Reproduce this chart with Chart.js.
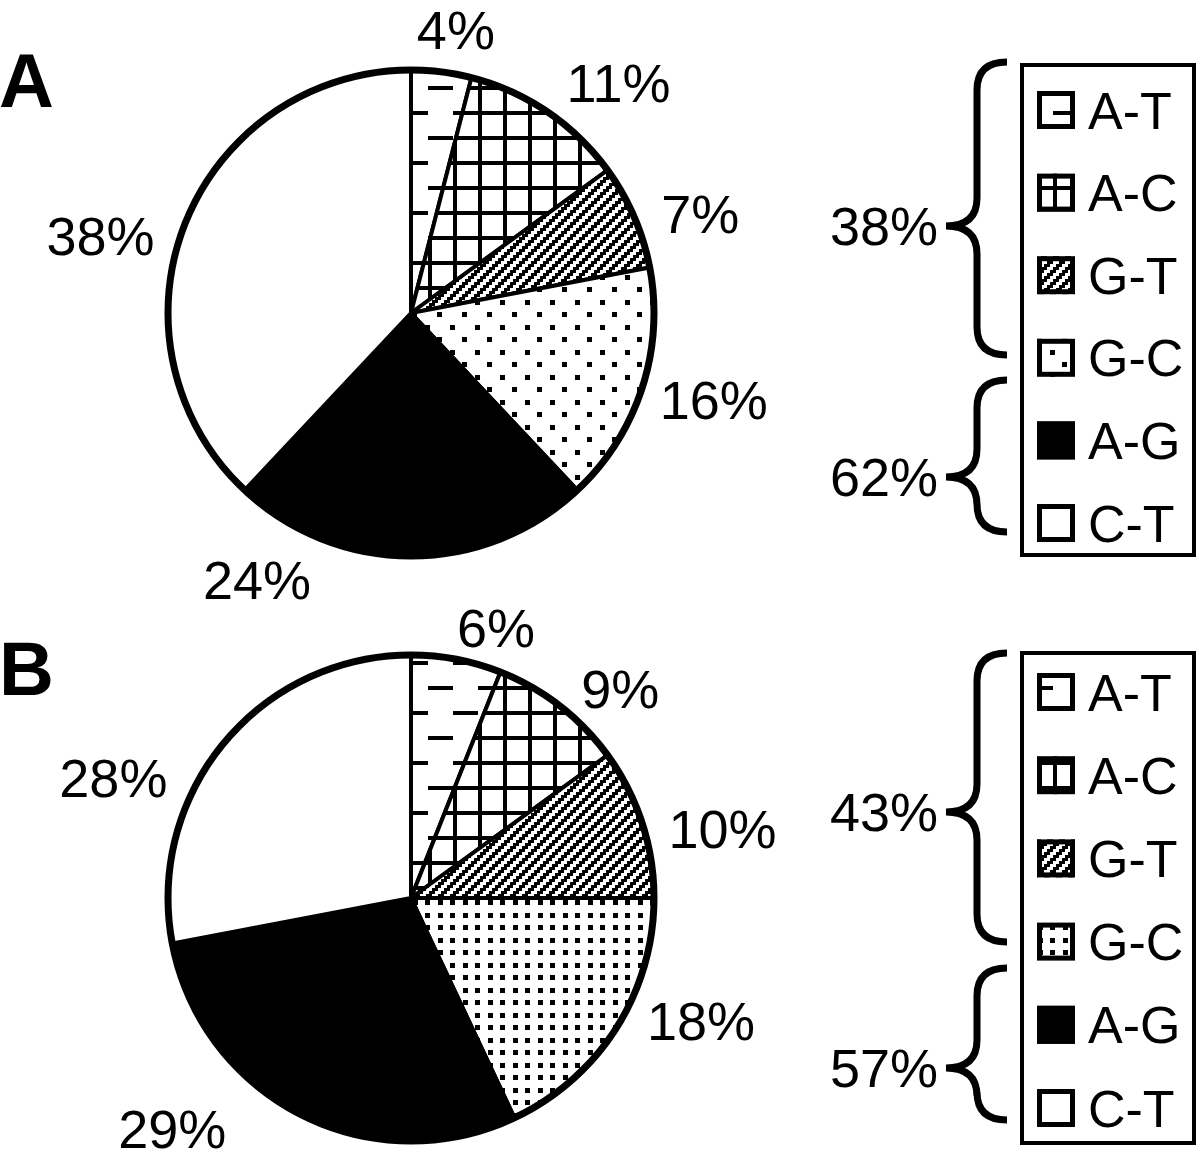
<!DOCTYPE html>
<html>
<head>
<meta charset="utf-8">
<script src="https://cdn.jsdelivr.net/npm/chart.js@4.4.0/dist/chart.umd.min.js"></script>
<style>
  html, body { margin: 0; padding: 0; background: #fff; }
  #wrap { position: relative; width: 1200px; height: 1152px; }
  canvas { position: absolute; left: 0; top: 0; }
</style>
</head>
<body>
<div id="wrap">
  <canvas id="chartA" width="1200" height="1152"></canvas>
  <canvas id="chartB" width="1200" height="1152"></canvas>
</div>
<script>
// mismatch types, clockwise from 12 o'clock
const pairs = ['A-T', 'A-C', 'G-T', 'G-C', 'A-G', 'C-T'];
const valuesA = [4, 11, 7, 16, 24, 38];
const valuesB = [6, 9, 10, 18, 29, 28];
// brace groups: first four types, last two types
const groupsA = [38, 62];
const groupsB = [43, 57];

const FONT = '"Liberation Sans", Arial, sans-serif';

function makePattern(w, h, draw) {
    const c = document.createElement('canvas');
    c.width = w; c.height = h;
    const g = c.getContext('2d');
    g.fillStyle = '#fff';
    g.fillRect(0, 0, w, h);
    g.fillStyle = '#000';
    draw(g, w, h);
    return g.createPattern(c, 'repeat');
}

// A-T: staggered short dashes
const dashPat = makePattern(50, 50, g => {
    g.fillRect(28, 36, 22, 4); g.fillRect(0, 36, 3, 4);
    g.fillRect(3, 11, 25, 4);
});
// A-C: square grid
const gridPat = makePattern(25, 25, g => {
    g.fillRect(3, 0, 4, 25);
    g.fillRect(0, 11, 25, 4);
});
// G-T: stepped diagonal stripes
const diagPat = makePattern(12, 12, g => {
    for (let x = 0; x < 12; x++)
        for (let y = 0; y < 12; y++)
            if ((Math.floor(x / 3) + Math.floor(y / 3)) % 4 < 2) g.fillRect(x, y, 1, 1);
});
// G-C: dots (sparse for A, dense for B)
const dotPatA = makePattern(25, 25, g => {
    g.fillRect(0, 0, 5, 5);
    g.fillRect(12, 12, 5, 5);
});
const dotPatB = makePattern(25, 25, g => {
    g.fillRect(0, 0, 5, 5); g.fillRect(13, 0, 5, 5);
    g.fillRect(0, 13, 5, 5); g.fillRect(13, 13, 5, 5);
});

const fillsA = [dashPat, gridPat, diagPat, dotPatA, '#000', '#fff'];
const fillsB = [dashPat, gridPat, diagPat, dotPatB, '#000', '#fff'];

function drawBrace(ctx, top, bottom, tip) {
    const xe = 1007, xs = 977, xt = 946, k = 28;
    ctx.beginPath();
    ctx.moveTo(xe, top);
    ctx.quadraticCurveTo(xs, top, xs, top + k);
    ctx.lineTo(xs, tip - k);
    ctx.quadraticCurveTo(xs, tip, xt, tip);
    ctx.quadraticCurveTo(xs, tip, xs, tip + k);
    ctx.lineTo(xs, bottom - k);
    ctx.quadraticCurveTo(xs, bottom, xe, bottom);
    ctx.stroke();
}

const decor = {
    id: 'decor',
    afterDatasetsDraw(chart, args, opts) {
        const ctx = chart.ctx;
        const arc0 = chart.getDatasetMeta(0).data[0];
        const cx = arc0.x, cy = arc0.y, r = arc0.outerRadius;
        const vals = chart.data.datasets[0].data;
        const fills = chart.data.datasets[0].backgroundColor;
        ctx.save();
        ctx.strokeStyle = '#000';
        ctx.fillStyle = '#000';

        // heavy outer rim
        ctx.lineWidth = 7;
        ctx.beginPath();
        ctx.arc(cx, cy, r, 0, Math.PI * 2);
        ctx.stroke();

        // slice percentages
        ctx.font = '54px ' + FONT;
        ctx.textAlign = 'center';
        ctx.textBaseline = 'alphabetic';
        opts.spots.forEach((s, i) => {
            const a = s[0] * Math.PI / 180;
            const x = cx + s[1] * Math.sin(a);
            const y = cy - s[1] * Math.cos(a);
            ctx.fillText(vals[i] + '%', x, y + 54 * 0.358);
        });

        // panel letter
        ctx.font = 'bold 76px ' + FONT;
        ctx.textAlign = 'left';
        ctx.fillText(opts.letter, -1, opts.letterY);

        // legend box
        ctx.lineWidth = 4;
        ctx.strokeRect(1022, opts.boxTop, 172, opts.boxBottom - opts.boxTop);
        chart.data.labels.forEach((lab, i) => {
            const y = opts.rowTop + i * opts.rowStep;
            ctx.fillStyle = fills[i];
            ctx.fillRect(1037, y - 19, 38, 38);
            ctx.lineWidth = 5;
            ctx.strokeRect(1039.5, y - 16.5, 33, 33);
            ctx.fillStyle = '#000';
            ctx.font = '52px ' + FONT;
            ctx.fillText(lab, 1088, y + 52 * 0.358);
        });

        // braces with group totals
        ctx.lineWidth = 7;
        ctx.textAlign = 'right';
        ctx.font = '54px ' + FONT;
        opts.braces.forEach((b, i) => {
            drawBrace(ctx, b[0], b[1], b[2]);
            ctx.fillText(opts.groups[i] + '%', 938, b[2] + 54 * 0.358);
        });
        ctx.restore();
    }
};

function makePie(id, values, fills, pad, deco) {
    new Chart(document.getElementById(id), {
        type: 'pie',
        data: {
            labels: pairs,
            datasets: [{
                data: values,
                backgroundColor: fills,
                borderColor: '#000',
                borderWidth: 4
            }]
        },
        options: {
            responsive: false,
            animation: false,
            radius: 243,
            layout: { padding: pad },
            plugins: {
                legend: { display: false },
                tooltip: { enabled: false },
                decor: deco
            }
        },
        plugins: [decor]
    });
}

// Chart A
makePie('chartA', valuesA, fillsA,
    { left: 0, right: 378, top: 0, bottom: 526 },
    {
        letter: 'A', letterY: 107,
        spots: [[9, 287], [42, 310], [71, 306], [106, 315], [210, 308], [284, 320]],
        boxTop: 65, boxBottom: 555, rowTop: 110, rowStep: 82.6,
        braces: [[62, 355, 226], [380, 532, 477]],
        groups: groupsA
    });

// Chart B
makePie('chartB', valuesB, fillsB,
    { left: 0, right: 378, top: 644, bottom: 0 },
    {
        letter: 'B', letterY: 695,
        spots: [[17.5, 283], [45, 296], [77.5, 319], [113, 315], [226, 332], [292, 321]],
        boxTop: 653, boxBottom: 1143, rowTop: 692, rowStep: 83.2,
        braces: [[653, 942, 812], [968, 1120, 1068]],
        groups: groupsB
    });
</script>
</body>
</html>
